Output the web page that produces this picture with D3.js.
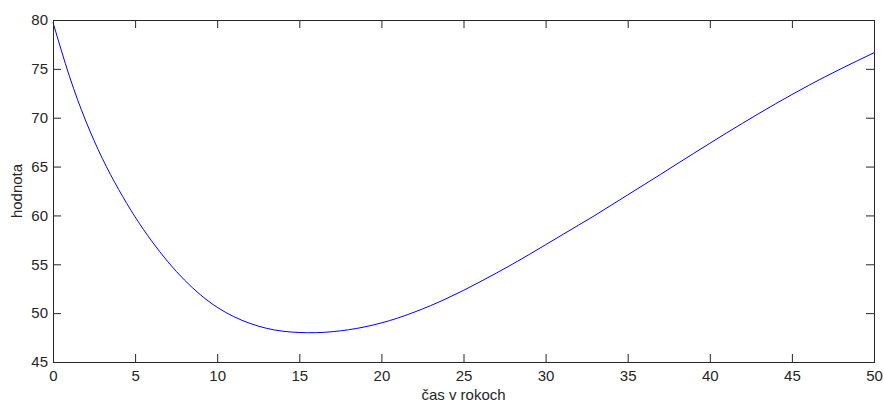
<!DOCTYPE html>
<html>
<head>
<meta charset="utf-8">
<script src="https://cdn.jsdelivr.net/npm/d3@7"></script>
<style>
  html, body { margin: 0; padding: 0; background: #fff; }
  svg { display: block; font-family: "Liberation Sans", Arial, sans-serif; }
</style>
</head>
<body>
<div id="chart"></div>
<script>
  // values, one per year
  const years = d3.range(0, 51);
  const values = [
    79.75, 74.25, 69.65, 65.85, 62.65, 59.85, 57.4, 55.25, 53.4, 51.85,
    50.6, 49.65, 48.95, 48.45, 48.15, 48.02, 48.0, 48.1, 48.3, 48.6,
    49.0, 49.5, 50.1, 50.77, 51.52, 52.33, 53.2, 54.1, 55.03, 56.0,
    57.0, 58.0, 59.0, 60.0, 61.05, 62.1, 63.15, 64.2, 65.27, 66.33,
    67.38, 68.42, 69.44, 70.44, 71.42, 72.37, 73.29, 74.17, 75.02, 75.84,
    76.65
  ];
  const xTicks = [0, 5, 10, 15, 20, 25, 30, 35, 40, 45, 50];
  const yTicks = [45, 50, 55, 60, 65, 70, 75, 80];
  const xTitle = 'čas v rokoch';
  const yTitle = 'hodnota';

  const width = 884, height = 403;
  const margin = { top: 20, right: 10, bottom: 41, left: 53 };
  const innerW = width - margin.left - margin.right;
  const innerH = height - margin.top - margin.bottom;
  const axisColor = '#262626';
  const tickLen = 8;

  const svg = d3.select('#chart').append('svg')
    .attr('width', width)
    .attr('height', height);

  const g = svg.append('g').attr('transform', `translate(${margin.left},${margin.top})`);

  const x = d3.scaleLinear().domain([0, 50]).range([0, innerW]);
  const y = d3.scaleLinear().domain([45, 80]).range([innerH, 0]);

  // data line
  const data = years.map((t, i) => ({ t, v: values[i] }));
  const line = d3.line()
    .x(d => x(d.t))
    .y(d => y(d.v))
    .curve(d3.curveNatural);

  g.append('path')
    .datum(data)
    .attr('fill', 'none')
    .attr('stroke', '#0000ff')
    .attr('stroke-width', 1)
    .attr('d', line);

  // axes, ticks pointing inward on all four sides
  function styleAxis(sel) {
    sel.select('.domain').remove();
    sel.selectAll('.tick line').attr('stroke', axisColor);
    sel.selectAll('.tick text')
      .attr('fill', axisColor)
      .attr('font-size', 15)
      .attr('font-family', '"Liberation Sans", Arial, sans-serif');
  }

  g.append('g')
    .attr('transform', `translate(0,${innerH})`)
    .call(d3.axisBottom(x).tickValues(xTicks).tickSize(-tickLen).tickPadding(8).tickFormat(d3.format('d')))
    .call(styleAxis);

  g.append('g')
    .call(d3.axisTop(x).tickValues(xTicks).tickSize(-tickLen).tickFormat(''))
    .call(styleAxis);

  g.append('g')
    .call(d3.axisLeft(y).tickValues(yTicks).tickSize(-tickLen).tickPadding(5).tickFormat(d3.format('d')))
    .call(styleAxis);

  g.append('g')
    .attr('transform', `translate(${innerW},0)`)
    .call(d3.axisRight(y).tickValues(yTicks).tickSize(-tickLen).tickFormat(''))
    .call(styleAxis);

  // frame
  g.append('rect')
    .attr('x', 0.5).attr('y', 0.5)
    .attr('width', innerW).attr('height', innerH)
    .attr('fill', 'none')
    .attr('stroke', axisColor)
    .attr('stroke-width', 1);

  // titles
  svg.append('text')
    .attr('x', margin.left + innerW / 2)
    .attr('y', height - 3)
    .attr('text-anchor', 'middle')
    .attr('font-size', 15)
    .attr('fill', axisColor)
    .text(xTitle);

  svg.append('text')
    .attr('transform', `translate(22,${margin.top + innerH / 2}) rotate(-90)`)
    .attr('text-anchor', 'middle')
    .attr('font-size', 15)
    .attr('fill', axisColor)
    .text(yTitle);
</script>
</body>
</html>
